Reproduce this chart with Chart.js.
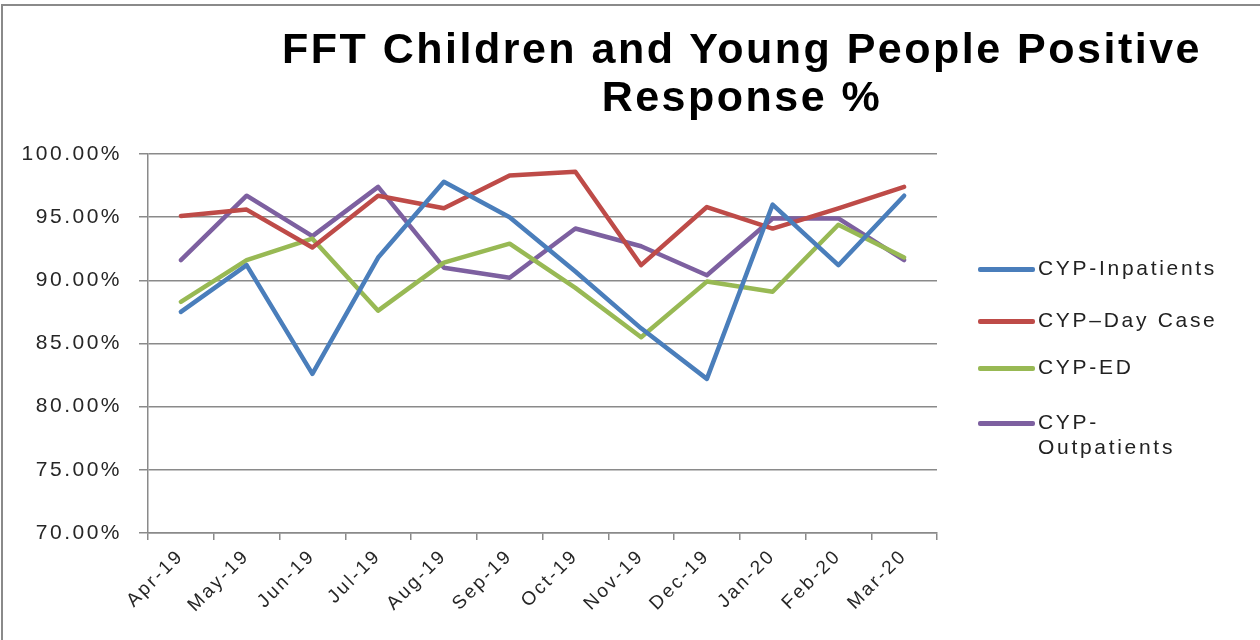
<!DOCTYPE html>
<html lang="en">

<head>
  <meta charset="UTF-8">
  <title>FFT Children and Young People Positive Response %</title>
  <script src="https://cdn.jsdelivr.net/npm/chart.js"></script>
  <style>
    body { margin: 0; background: #fff; font-family: "Liberation Sans", Arial, sans-serif; }
    #wrap { position: relative; width: 1260px; height: 640px; overflow: hidden; }
    #frame-top { position: absolute; left: 1px; top: 4px; width: 1259px; height: 2px; background: #8a8a8a; }
    #frame-left { position: absolute; left: 1px; top: 4px; width: 2px; height: 636px; background: #8a8a8a; }
    #title {
      position: absolute; left: 142px; top: 24px; width: 1200px; text-align: center;
      font-weight: bold; font-size: 43px; line-height: 48px; letter-spacing: 2.5px; color: #000;
    }
    #legend { position: absolute; left: 978px; top: 255px; }
    .item { display: flex; align-items: flex-start; }
    .swatch { width: 57px; height: 4.5px; border-radius: 2px; margin-top: 12px; }
    .label { width: 190px; font-size: 21px; line-height: 25px; letter-spacing: 2.7px; color: #222; padding-left: 3px; }
    #chart-box { position: absolute; left: 0; top: 0; width: 1260px; height: 640px; }
  </style>
</head>

<body>
  <div id="wrap">
    <div id="chart-box"><canvas id="fftChart"></canvas></div>
    <div id="frame-top"></div>
    <div id="frame-left"></div>
    <div id="title">FFT Children and Young People Positive<br>Response %</div>
    <div id="legend"></div>
  </div>

  <script>
    // data (percent)
    const months = ['Apr-19', 'May-19', 'Jun-19', 'Jul-19', 'Aug-19', 'Sep-19',
      'Oct-19', 'Nov-19', 'Dec-19', 'Jan-20', 'Feb-20', 'Mar-20'];
    const inpatients = [87.5, 91.2, 82.6, 91.8, 97.8, 95.0, 90.7, 86.2, 82.2, 96.0, 91.2, 96.7];
    const dayCase = [95.1, 95.6, 92.6, 96.7, 95.7, 98.3, 98.6, 91.2, 95.8, 94.1, 95.7, 97.4];
    const ed = [88.3, 91.6, 93.3, 87.6, 91.4, 92.9, 89.4, 85.5, 89.9, 89.1, 94.4, 91.8];
    const outpatients = [91.6, 96.7, 93.5, 97.4, 91.0, 90.2, 94.1, 92.7, 90.4, 94.9, 94.9, 91.6];
    const yMin = 70, yMax = 100, yStep = 5;

    const seriesNames = ['CYP-Inpatients', 'CYP\u2013Day Case', 'CYP-ED', 'CYP-Outpatients'];
    const seriesColors = ['#4a7ebb', '#be4b48', '#98b954', '#7d60a0'];
    const seriesData = [inpatients, dayCase, ed, outpatients];

    // wider letter spacing on the canvas text, like the source image
    const spacing = {
      id: 'spacing',
      beforeUpdate(chart) { chart.ctx.letterSpacing = '2.5px'; },
      beforeDraw(chart) { chart.ctx.letterSpacing = '2.5px'; }
    };

    const gridColor = '#8a8a8a';
    const fontFamily = '"Liberation Sans", Arial, sans-serif';
    const ctx = document.getElementById('fftChart').getContext('2d');
    new Chart(ctx, {
      type: 'line',
      data: {
        labels: months,
        datasets: seriesData.map((d, i) => ({
          label: seriesNames[i],
          data: d,
          borderColor: seriesColors[i],
          backgroundColor: seriesColors[i],
          borderWidth: 4.5,
          pointRadius: 0,
          tension: 0,
          borderJoinStyle: 'round',
          borderCapStyle: 'round'
        }))
      },
      options: {
        responsive: true,
        maintainAspectRatio: false,
        animation: false,
        layout: { padding: { top: 154, right: 323, bottom: 0, left: 0 } },
        plugins: {
          legend: { display: false },
          title: { display: false },
          tooltip: { enabled: false }
        },
        scales: {
          x: {
            offset: true,
            afterFit(scale) { scale.height = 107; },
            grid: { offset: true, drawOnChartArea: false, drawTicks: true, tickLength: 7, color: gridColor, lineWidth: 1.5 },
            border: { color: gridColor, width: 1.5 },
            ticks: {
              autoSkip: false, minRotation: 45, maxRotation: 45, padding: 5,
              color: '#262626', font: { family: fontFamily, size: 19 }
            }
          },
          y: {
            min: yMin, max: yMax,
            afterFit(scale) { scale.width = 148; },
            grid: { color: gridColor, lineWidth: 1.5, tickLength: 9 },
            border: { color: gridColor, width: 1.5 },
            ticks: {
              stepSize: yStep, padding: 17,
              color: '#262626', font: { family: fontFamily, size: 21 },
              callback: v => v.toFixed(2) + '%'
            }
          }
        }
      },
      plugins: [spacing]
    });

    // legend on the right (gaps follow the reference spacing)
    const legendGaps = [27, 22, 30, 0];
    const legend = document.getElementById('legend');
    seriesNames.forEach((name, i) => {
      const item = document.createElement('div');
      item.className = 'item';
      item.style.marginBottom = legendGaps[i] + 'px';
      item.innerHTML = '<div class="swatch" style="background:' + seriesColors[i] + '"></div>' +
        '<div class="label">' + name + '</div>';
      legend.appendChild(item);
    });
  </script>
</body>

</html>
